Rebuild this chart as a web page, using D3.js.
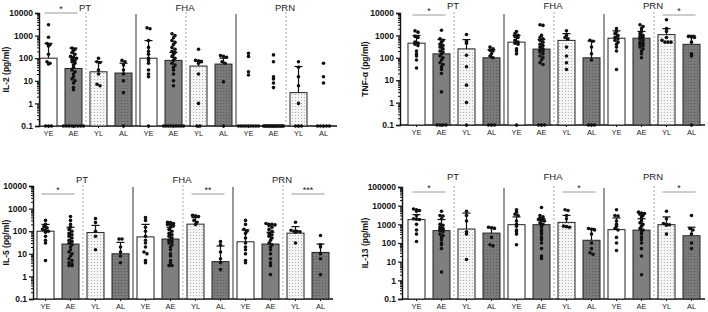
<!DOCTYPE html>
<html>
<head>
<meta charset="utf-8">
<script src="https://cdn.jsdelivr.net/npm/d3@7"></script>
<style>
  body { margin: 0; background: #fff; }
  svg { font-family: "Liberation Sans", Arial, sans-serif; }
</style>
</head>
<body>
<div id="chart"></div>
<script>
// categories
const groups = ["YE", "AE", "YL", "AL"];
const antigens = ["PT", "FHA", "PRN"];
const yTicksSmall = [0.1, 1, 10, 100, 1000, 10000];
const yTicksLarge = [0.1, 1, 10, 100, 1000, 10000, 100000];

// IL-2 (values below detection plotted at 0.1)
const il2Bars = [100, 35, 25, 22, 100, 80, 45, 55, 0.1, 0.1, 3, 0.1];
const il2Err = [450, 280, 70, 60, 600, 180, 80, 100, null, null, 43, null];
const il2Points = [
  [3000, 850, 450, 400, 350, 150, 70, 60, 55, 0.1, 0.1, 0.1],
  [280, 250, 220, 180, 150, 120, 110, 100, 90, 80, 70, 60, 50, 40, 30, 25, 20, 15, 12, 10, 8, 5, 4, 0.1, 0.1, 0.1, 0.1, 0.1, 0.1, 0.1, 0.1],
  [100, 70, 65, 30, 20, 7, 6],
  [80, 70, 50, 30, 20, 10, 3, 0.1],
  [2200, 2000, 600, 300, 200, 150, 100, 80, 60, 30, 20, 15, 0.1],
  [1200, 1000, 800, 600, 500, 400, 300, 250, 200, 180, 150, 120, 100, 80, 60, 50, 40, 30, 20, 10, 6, 0.1, 0.1, 0.1, 0.1, 0.1, 0.1, 0.1, 0.1, 0.1],
  [250, 80, 75, 70, 60, 20, 1, 0.1, 0.1],
  [130, 120, 110, 70, 60, 9, 0.1],
  [165, 120, 25, 18, 0.1, 0.1, 0.1, 0.1, 0.1, 0.1, 0.1, 0.1, 0.1],
  [140, 70, 15, 12, 8, 5, 0.1, 0.1, 0.1, 0.1, 0.1, 0.1, 0.1, 0.1, 0.1, 0.1, 0.1, 0.1, 0.1, 0.1, 0.1, 0.1, 0.1, 0.1],
  [70, 40, 15, 6, 1, 0.1, 0.1, 0.1],
  [60, 15, 8, 0.1, 0.1, 0.1, 0.1, 0.1]
];

// TNF-alpha
const tnfBars = [450, 150, 250, 100, 500, 245, 600, 100, 750, 750, 1080, 400];
const tnfErr = [1000, 650, 650, 230, 1000, 650, 1200, 560, 1600, 1500, 2000, 1000];
const tnfPoints = [
  [1600, 1400, 900, 800, 500, 450, 400, 350, 200, 150, 120, 80, 35],
  [1700, 700, 600, 500, 400, 350, 300, 250, 200, 180, 150, 120, 100, 80, 60, 50, 40, 30, 20, 3, 0.1, 0.1, 0.1, 0.1],
  [1100, 550, 450, 130, 40, 6, 1, 0.1],
  [300, 250, 220, 200, 150, 120, 100, 0.1, 0.1, 0.1],
  [1500, 1200, 1000, 900, 800, 600, 500, 450, 400, 250, 200, 150, 0.1],
  [3000, 2800, 1000, 800, 700, 600, 500, 400, 350, 300, 250, 220, 200, 180, 150, 120, 100, 80, 60, 50, 0.1, 0.1, 0.1],
  [1600, 1000, 800, 700, 300, 120, 60, 30],
  [600, 550, 300, 150, 80, 0.1, 0.1, 0.1],
  [2000, 1500, 1200, 1000, 800, 700, 600, 500, 400, 300, 200, 30],
  [3000, 2500, 2000, 1500, 1200, 1000, 900, 800, 700, 600, 500, 450, 400, 350, 300, 250, 200, 150, 100],
  [5000, 2000, 1500, 800, 600, 500, 500, 500],
  [900, 850, 800, 500, 150, 120, 0.1]
];

// IL-5
const il5Bars = [100, 27, 87, 10, 56, 45, 205, 4.5, 34, 27, 82, 11.5];
const il5Err = [200, 150, 180, 32, 200, 150, 400, 22, 115, 90, 160, 27];
const il5Points = [
  [300, 200, 160, 140, 120, 110, 100, 90, 60, 40, 30, 5],
  [450, 300, 200, 150, 120, 100, 80, 70, 60, 50, 40, 35, 30, 25, 20, 15, 12, 10, 8, 6, 5, 4, 3.5, 3, 3],
  [360, 240, 100, 60, 15],
  [45, 45, 20, 12, 8, 4],
  [400, 300, 150, 100, 60, 40, 30, 20, 12, 10, 5, 4],
  [250, 240, 220, 200, 200, 180, 150, 120, 100, 80, 70, 60, 50, 40, 35, 30, 25, 20, 15, 10, 8, 5, 4, 3, 3],
  [500, 480, 450, 300, 250, 200],
  [35, 25, 12, 6, 4, 2],
  [300, 200, 120, 100, 80, 50, 30, 20, 15, 10, 5, 4],
  [220, 200, 200, 190, 180, 150, 120, 100, 80, 70, 60, 50, 40, 30, 25, 20, 15, 10, 6, 4, 3, 1.2],
  [250, 110, 100, 100, 95, 90, 30],
  [65, 25, 20, 10, 6, 1.2]
];

// IL-13
const il13Bars = [1780, 460, 560, 340, 960, 960, 1270, 140, 520, 490, 960, 245];
const il13Err = [3300, 1800, 4000, 700, 2500, 2000, 3000, 600, 2200, 2000, 2500, 700];
const il13Points = [
  [6600, 6000, 5500, 5000, 3000, 2000, 1900, 1800, 1000, 500, 300, 120],
  [5000, 3000, 2800, 2000, 1000, 900, 700, 600, 550, 500, 450, 400, 300, 250, 200, 150, 100, 80, 50, 2.8],
  [5000, 3000, 1500, 400, 300, 13],
  [700, 650, 600, 200, 80, 70],
  [6000, 4500, 3500, 3000, 1500, 1000, 800, 500, 400, 300, 80],
  [8000, 3000, 2500, 2200, 2000, 1800, 1600, 1500, 1200, 1000, 900, 700, 500, 400, 300, 200, 150, 100, 50, 20, 15],
  [6000, 5500, 3000, 2000, 800, 750, 700],
  [600, 550, 500, 300, 100, 50, 30, 25],
  [6000, 3000, 2800, 1500, 1000, 800, 600, 500, 200, 100, 40],
  [4500, 4000, 3800, 3500, 3000, 2500, 2000, 1500, 1200, 1000, 800, 600, 500, 400, 300, 200, 150, 100, 50, 20, 2],
  [5000, 2000, 1100, 1000, 950, 900, 300],
  [3000, 600, 500, 300, 100, 50]
];

const svg = d3.select("#chart").append("svg")
    .attr("width", 708)
    .attr("height", 312);

// fill patterns for the late groups
const defs = svg.append("defs");
const light = defs.append("pattern").attr("id", "dotsLight")
    .attr("patternUnits", "userSpaceOnUse").attr("width", 3).attr("height", 3);
light.append("rect").attr("width", 3).attr("height", 3).attr("fill", "#f5f5f5");
light.append("circle").attr("cx", 1.5).attr("cy", 1.5).attr("r", 0.6).attr("fill", "#a8a8a8");
const dark = defs.append("pattern").attr("id", "dotsDark")
    .attr("patternUnits", "userSpaceOnUse").attr("width", 3).attr("height", 3);
dark.append("rect").attr("width", 3).attr("height", 3).attr("fill", "#7a7a7a");
dark.append("circle").attr("cx", 1.5).attr("cy", 1.5).attr("r", 0.6).attr("fill", "#555");

const fills = {YE: "#ffffff", AE: "#7f7f7f", YL: "url(#dotsLight)", AL: "url(#dotsDark)"};

class CytokinePanel {

    constructor(_config, _bars, _err, _points) {
        this.config = _config;
        this.bars = _bars;
        this.err = _err;
        this.points = _points;
        this.initVis();
        this.renderVis();
    }

    initVis() {
        let vis = this;
        const c = vis.config;

        vis.yScale = d3.scaleLog()
            .domain([0.1, c.yMax])
            .range([c.bottom, c.top]);

        // 12 bars, 25px apart, 17px wide
        vis.xScale = d3.scaleBand()
            .domain(d3.range(12))
            .range([c.first - 12.5, c.first + 287.5])
            .paddingInner(0.32)
            .paddingOuter(0.16);

        vis.g = svg.append("g");

        // minor log ticks
        const minor = [];
        c.ticks.slice(0, -1).forEach(t => {
            for (let k = 2; k < 10; k++) minor.push(t * k);
        });
        vis.g.append("g")
            .attr("transform", `translate(${c.left},0)`)
            .call(d3.axisLeft(vis.yScale).tickValues(minor).tickSize(2).tickFormat(""))
            .call(g => g.select(".domain").remove())
            .call(g => g.selectAll("line").attr("stroke", "#111"));

        vis.g.append("g")
            .attr("transform", `translate(${c.left},0)`)
            .call(d3.axisLeft(vis.yScale).tickValues(c.ticks).tickSize(4).tickPadding(2)
                .tickFormat(d3.format("~g")))
            .call(g => g.select(".domain").attr("stroke", "#111").attr("stroke-width", 1.4))
            .call(g => g.selectAll("line").attr("stroke", "#111").attr("stroke-width", 1.2))
            .call(g => g.selectAll("text").attr("font-size", 8.5).attr("font-weight", "bold").attr("fill", "#111"));

        vis.g.append("g")
            .attr("transform", `translate(0,${c.bottom})`)
            .call(d3.axisBottom(vis.xScale).tickSize(2).tickPadding(3)
                .tickFormat(i => groups[i % 4]))
            .call(g => g.select(".domain").remove())
            .call(g => g.selectAll("line").attr("stroke", "#111"))
            .call(g => g.selectAll("text").attr("font-size", 7.5).attr("fill", "#222"));

        vis.g.append("line")
            .attr("x1", c.left).attr("x2", c.right)
            .attr("y1", c.bottom).attr("y2", c.bottom)
            .attr("stroke", "#111").attr("stroke-width", 1.4);

        vis.g.append("text")
            .attr("transform", `translate(${c.labelX},${(c.top + c.bottom) / 2}) rotate(-90)`)
            .attr("text-anchor", "middle")
            .attr("font-size", 8.5)
            .attr("font-weight", "bold")
            .attr("fill", "#111")
            .text(c.label);
    }

    // deterministic horizontal spread of points that sit at nearly the same value
    spread(values) {
        const sorted = values.slice().sort((a, b) => b - a);
        const out = [];
        let cluster = [];
        const flush = () => {
            const n = cluster.length;
            const floor = cluster[0] <= 0.1;
            const step = n > 1 ? Math.min(3, (floor ? 20 : 15) / (n - 1)) : 0;
            cluster.forEach((v, k) => out.push({v: v, dx: (k - (n - 1) / 2) * step}));
            cluster = [];
        };
        sorted.forEach(v => {
            if (cluster.length && Math.abs(Math.log10(cluster[0]) - Math.log10(v)) > 0.08) flush();
            cluster.push(v);
        });
        if (cluster.length) flush();
        return out;
    }

    renderVis() {
        let vis = this;
        const c = vis.config;
        const bw = vis.xScale.bandwidth();
        const cx = i => vis.xScale(i) + bw / 2;

        // separators
        [0, 1, 2].forEach(a => {
            const xd = (cx(a * 4 + 1) + cx(a * 4 + 2)) / 2;
            vis.g.append("line")
                .attr("x1", xd).attr("x2", xd)
                .attr("y1", c.top - 1).attr("y2", c.bottom)
                .attr("stroke", "#aaa").attr("stroke-dasharray", "2,2");
            vis.g.append("text")
                .attr("x", xd - 1).attr("y", c.labelY)
                .attr("text-anchor", "middle")
                .attr("font-size", 9.5)
                .attr("fill", "#222")
                .text(antigens[a]);
            if (a < 2) {
                const xs = (cx(a * 4 + 3) + cx(a * 4 + 4)) / 2;
                vis.g.append("line")
                    .attr("x1", xs).attr("x2", xs)
                    .attr("y1", c.top + 1).attr("y2", c.bottom)
                    .attr("stroke", "#333").attr("stroke-width", 1);
            }
        });

        vis.g.selectAll(".bar")
            .data(vis.bars)
            .join("rect")
            .attr("class", "bar")
            .attr("x", (d, i) => vis.xScale(i))
            .attr("y", d => vis.yScale(d))
            .attr("width", bw)
            .attr("height", d => c.bottom - vis.yScale(d))
            .attr("fill", (d, i) => fills[groups[i % 4]])
            .attr("stroke", "#222")
            .attr("stroke-width", 1);

        // error bars (upper only)
        vis.err.forEach((e, i) => {
            if (e == null) return;
            vis.g.append("line")
                .attr("x1", cx(i)).attr("x2", cx(i))
                .attr("y1", vis.yScale(vis.bars[i])).attr("y2", vis.yScale(e))
                .attr("stroke", "#111").attr("stroke-width", 1.2);
            vis.g.append("line")
                .attr("x1", cx(i) - 4).attr("x2", cx(i) + 4)
                .attr("y1", vis.yScale(e)).attr("y2", vis.yScale(e))
                .attr("stroke", "#111").attr("stroke-width", 1.2);
        });

        vis.points.forEach((vals, i) => {
            vis.g.append("g").selectAll("circle")
                .data(vis.spread(vals))
                .join("circle")
                .attr("cx", d => cx(i) + d.dx)
                .attr("cy", d => vis.yScale(d.v))
                .attr("r", 1.8)
                .attr("fill", "#111");
        });

        // significance brackets
        c.sig.forEach(s => {
            const x1 = cx(s[0]) - 4, x2 = cx(s[1]) + 4;
            vis.g.append("line")
                .attr("x1", x1).attr("x2", x2)
                .attr("y1", c.sigY).attr("y2", c.sigY)
                .attr("stroke", "#999").attr("stroke-width", 1);
            vis.g.append("text")
                .attr("x", (x1 + x2) / 2).attr("y", c.sigY - 1)
                .attr("text-anchor", "middle")
                .attr("font-size", 9)
                .attr("fill", "#222")
                .text(s[2]);
        });
    }
}

new CytokinePanel({left: 39, right: 337, top: 13, bottom: 126, first: 48.5, yMax: 10000,
    ticks: yTicksSmall, label: "IL-2 (pg/ml)", labelX: 9, labelY: 11, sigY: 13,
    sig: [[0, 1, "*"]]}, il2Bars, il2Err, il2Points);

new CytokinePanel({left: 400, right: 705, top: 13, bottom: 125, first: 416.5, yMax: 10000,
    ticks: yTicksSmall, label: "TNF-\u03b1 (pg/ml)", labelX: 368, labelY: 9, sigY: 15,
    sig: [[0, 1, "*"], [10, 11, "*"]]}, tnfBars, tnfErr, tnfPoints);

new CytokinePanel({left: 33, right: 333, top: 186, bottom: 299, first: 45.5, yMax: 10000,
    ticks: yTicksSmall, label: "IL-5 (pg/ml)", labelX: 9, labelY: 183, sigY: 194,
    sig: [[0, 1, "*"], [6, 7, "**"], [10, 11, "***"]]}, il5Bars, il5Err, il5Points);

new CytokinePanel({left: 402, right: 705, top: 187, bottom: 299, first: 416.5, yMax: 100000,
    ticks: yTicksLarge, label: "IL-13 (pg/ml)", labelX: 368, labelY: 180, sigY: 192,
    sig: [[0, 1, "*"], [6, 7, "*"], [10, 11, "*"]]}, il13Bars, il13Err, il13Points);
</script>
</body>
</html>
